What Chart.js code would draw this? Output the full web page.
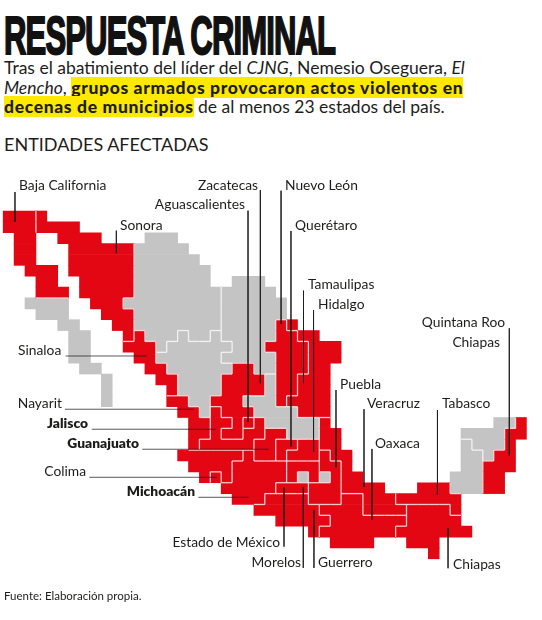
<!DOCTYPE html>
<html lang="es">
<head>
<meta charset="utf-8">
<title>Respuesta criminal</title>
<script src="https://cdn.jsdelivr.net/npm/chart.js@4"></script>
<style>
  html, body { margin: 0; padding: 0; background: #fff; }
  body { width: 542px; height: 620px; position: relative; overflow: hidden; color: #1d1d1b; font-family: Lato, sans-serif; }
  h1 { position: absolute; left: 4px; top: 6px; margin: 0; font: 700 54px/58px "Liberation Sans Narrow", sans-serif; color: #111;
       -webkit-text-stroke: 2px #111; transform: scaleX(0.575); transform-origin: left top; white-space: nowrap; letter-spacing: -1.5px; }
  #intro { position: absolute; left: 4px; top: 58px; margin: 0; font-size: 17.5px; line-height: 19.7px; white-space: nowrap; }
  #intro mark { background: #ffe900; color: #1d1d1b; font-weight: 900; letter-spacing: 0.65px; }
  h2 { position: absolute; left: 4px; top: 134px; margin: 0; font-size: 18px; line-height: 20px; font-weight: 400; white-space: nowrap; }
  #fuente { position: absolute; left: 4px; top: 589px; margin: 0; font-size: 11.5px; line-height: 14px; }
  #mapa { position: absolute; left: 0; top: 170px; width: 542px; height: 420px; }
</style>
</head>
<body>
<h1>RESPUESTA CRIMINAL</h1>
<p id="intro">Tras el abatimiento del líder del <i>CJNG</i>, Nemesio Oseguera, <i>El</i><br><i>Mencho</i>, <mark>grupos armados provocaron actos violentos en</mark><br><mark>decenas de municipios</mark> de al menos 23 estados del país.</p>
<h2>ENTIDADES AFECTADAS</h2>
<div id="mapa"><canvas id="mapaChart"></canvas></div>
<p id="fuente">Fuente: Elaboración propia.</p>
<script>
// Mosaico de entidades: cada tramo es [fila, columna inicial, columna final]
const bajaCalifornia = [[0,0,2],[1,0,2],[2,1,2],[3,1,2],[4,1,2],[5,2,4],[6,3,4],[7,3,5]];
const bajaCaliforniaSur = [[8,2,5],[9,3,5],[10,5,6],[11,6,7],[12,6,7],[13,6,7],[14,7,8],[15,9,9],[16,9,9],[17,9,9]];
const sonora = [[0,3,3],[1,3,6],[2,5,8],[3,6,11],[4,6,11],[5,6,11],[6,7,11],[7,7,11],[8,8,10],[9,9,11],[10,10,11],[11,11,11]];
const chihuahua = [[2,13,15],[3,12,16],[4,12,17],[5,12,18],[6,12,18],[7,12,19],[8,11,19],[9,12,19],[10,12,19],[11,13,15],[11,17,18],[12,14,14]];
const sinaloa = [[11,12,12],[12,11,13],[13,12,13],[14,13,14],[15,14,15],[16,15,15]];
const coahuila = [[6,21,23],[7,20,24],[8,20,25],[9,20,25],[10,20,24],[11,20,24],[12,21,23],[13,20,24],[14,23,24]];
const durango = [[11,16,16],[11,19,19],[12,15,20],[13,14,19],[14,15,20],[15,16,19],[16,16,19],[17,17,18],[18,18,18]];
const nuevoLeon = [[10,25,25],[11,25,26],[12,24,27],[13,25,27],[14,25,27],[15,25,26],[16,25,26],[17,25,25]];
const tamaulipas = [[10,26,26],[11,27,28],[12,28,30],[13,28,30],[14,28,29],[15,27,29],[16,27,29],[17,26,29],[18,27,29]];
const zacatecas = [[14,21,22],[15,20,23],[16,20,23],[17,19,21],[18,20,22],[19,21,21],[20,20,21]];
const aguascalientes = [[19,22,22]];
const sanLuisPotosi = [[15,24,24],[16,24,24],[17,22,24],[18,23,26],[19,24,28],[20,26,28]];
const nayarit = [[17,15,16],[18,16,17],[19,17,18],[20,17,18],[21,17,17]];
const jalisco = [[18,19,19],[19,19,20],[19,23,23],[20,19,19],[20,22,23],[21,18,22]];
const jaliscoSur = [[22,16,21],[23,17,20],[24,18,18],[24,20,20]];
const colima = [[24,19,19]];
const guanajuato = [[20,24,25],[21,23,24],[22,23,24]];
const queretaro = [[21,25,26],[22,25,25]];
const hidalgo = [[21,27,28],[22,26,28]];
const puebla = [[22,29,29],[23,29,30],[24,30,30],[25,28,30],[26,28,30]];
const veracruz = [[19,29,29],[20,29,30],[21,29,30],[22,30,31],[23,31,31],[24,31,32],[25,31,34],[26,33,35],[27,33,36]];
const michoacan = [[22,22,22],[23,21,25],[24,21,25],[25,20,24],[26,21,23]];
const estadoDeMexico = [[23,26,28],[24,26,26],[24,28,28]];
const morelos = [[25,25,27]];
const ciudadDeMexico = [[24,27,27]];
const tlaxcala = [[24,29,29]];
const guerrero = [[26,24,27],[27,23,28],[28,25,29],[29,28,28]];
const oaxaca = [[26,31,32],[27,29,32],[28,30,36],[29,29,35],[30,30,33]];
const tabasco = [[25,38,40],[26,36,41],[27,41,41]];
const chiapas = [[27,37,40],[28,37,41],[29,36,42],[30,37,39],[31,39,39]];
const campeche = [[21,42,42],[22,42,43],[23,42,43],[24,41,43],[25,41,43]];
const yucatan = [[19,45,46],[20,42,45],[21,43,45],[22,44,44]];
const quintanaRoo = [[19,47,47],[20,46,47],[21,46,46],[22,45,46],[23,44,46],[24,44,45],[25,44,45]];

const afectadas = [bajaCalifornia, sonora, sinaloa, nuevoLeon, tamaulipas, zacatecas, aguascalientes, nayarit, jalisco, jaliscoSur,
    colima, guanajuato, queretaro, hidalgo, puebla, veracruz, michoacan, estadoDeMexico, morelos, guerrero, oaxaca, tabasco, chiapas, quintanaRoo];
const noAfectadas = [bajaCaliforniaSur, chihuahua, coahuila, durango, sanLuisPotosi, ciudadDeMexico, tlaxcala, campeche, yucatan];

// Etiquetas: [texto, columna, fila, alineación, negrita]
const etiquetas = [
    ['Baja California', 1.45, -2.30, 'left', false], ['Sonora', 10.72, 1.38, 'left', false],
    ['Zacatecas', 23.38, -2.30, 'right', false], ['Aguascalientes', 22.18, -0.55, 'right', false],
    ['Nuevo León', 25.85, -2.30, 'left', false], ['Querétaro', 26.77, 1.38, 'left', false],
    ['Tamaulipas', 27.96, 6.81, 'left', false], ['Hidalgo', 28.88, 8.65, 'left', false],
    ['Quintana Roo', 46.04, 10.30, 'right', false], ['Chiapas', 45.58, 12.14, 'right', false],
    ['Sinaloa', 1.36, 12.88, 'left', false], ['Puebla', 30.90, 16.01, 'left', false],
    ['Veracruz', 33.38, 17.76, 'left', false], ['Tabasco', 40.26, 17.76, 'left', false],
    ['Nayarit', 5.39, 17.76, 'right', false], ['Jalisco', 7.78, 19.60, 'right', true],
    ['Guanajuato', 12.46, 21.44, 'right', true], ['Oaxaca', 34.11, 21.44, 'left', false],
    ['Colima', 7.60, 24.01, 'right', false], ['Michoacán', 17.60, 25.85, 'right', true],
    ['Estado de México', 25.39, 30.54, 'right', false], ['Morelos', 27.32, 32.38, 'right', false],
    ['Guerrero', 28.88, 32.38, 'left', false], ['Chiapas', 41.27, 32.57, 'left', false]
];

// Guías: [columna, fila, columna, fila]
const guias = [
    [1.08,-1.75,1.08,1.01], [10.38,1.81,10.38,3.89], [5.73,13.34,13.17,13.34], [23.59,-1.93,23.59,15.85],
    [22.46,-0.03,22.46,19.38], [25.49,-1.87,25.49,10.4], [26.40,1.84,26.40,21.68], [27.55,7.33,27.55,15.85],
    [28.47,9.11,28.47,22.14], [46.43,10.79,46.43,22.54], [30.53,16.47,30.53,23.58], [33.10,18.24,33.10,25.36],
    [33.83,21.89,33.83,28.43], [39.84,18.31,39.84,26.13], [40.81,29.19,40.81,32.87], [5.67,18.24,17.44,18.24],
    [8.12,20.08,19.50,20.08], [12.76,21.92,24.32,21.92], [7.90,24.50,19.59,24.50], [17.90,26.34,22.49,26.34],
    [25.76,25.42,25.76,30.88], [27.53,25.39,27.53,32.84], [28.51,27.51,28.51,32.84]
];

const ROJO = '#e30613';
const GRIS = '#c4c4c4';

const barrasDe = (estado, color) => ({
    type: 'bar',
    indexAxis: 'y',
    grouped: false,
    order: 3,
    backgroundColor: color,
    borderWidth: 0,
    barPercentage: 1,
    categoryPercentage: 1,
    data: estado.map(([fila, desde, hasta]) => ({ x: [desde, hasta + 1], y: fila + 0.5 }))
});

// Línea clara entre celdas vecinas de distinta entidad, un dataset por tramo
const limites = () => {
    const celdas = new Map();
    [...afectadas, ...noAfectadas].forEach((estado, i) => {
        estado.forEach(([fila, desde, hasta]) => {
            for (let c = desde; c <= hasta; c++) celdas.set(fila + ',' + c, i);
        });
    });
    const tramos = [];
    celdas.forEach((estado, clave) => {
        const [f, c] = clave.split(',').map(Number);
        const derecha = celdas.get(f + ',' + (c + 1));
        const abajo = celdas.get((f + 1) + ',' + c);
        if (derecha !== undefined && derecha !== estado) tramos.push([c + 1, f, c + 1, f + 1]);
        if (abajo !== undefined && abajo !== estado) tramos.push([c, f + 1, c + 1, f + 1]);
    });
    return tramos;
};

const lineaDe = ([x1, y1, x2, y2], order, color, grosor) => ({
    type: 'line',
    order,
    data: [{ x: x1, y: y1 }, { x: x2, y: y2 }],
    borderColor: color,
    borderWidth: grosor,
    pointRadius: 0,
    fill: false
});

const pluginEtiquetas = {
    id: 'etiquetas',
    afterDraw(chart) {
        const { ctx, scales } = chart;
        ctx.save();
        ctx.fillStyle = '#1d1d1b';
        ctx.textBaseline = 'middle';
        etiquetas.forEach(([texto, col, fila, alinear, negrita]) => {
            ctx.font = (negrita ? '800 ' : '400 ') + '13.8px Lato, sans-serif';
            ctx.textAlign = alinear;
            ctx.fillText(texto, scales.x.getPixelForValue(col), scales.y.getPixelForValue(fila));
        });
        ctx.restore();
    }
};

new Chart(document.getElementById('mapaChart'), {
    data: {
        datasets: [
            ...afectadas.map(e => barrasDe(e, ROJO)),
            ...noAfectadas.map(e => barrasDe(e, GRIS)),
            ...limites().map(t => lineaDe(t, 2, 'rgba(255,255,255,0.78)', 1.3)),
            ...guias.map(g => lineaDe(g, 1, 'rgba(25,25,25,0.72)', 1))
        ]
    },
    options: {
        responsive: true,
        maintainAspectRatio: false,
        animation: false,
        events: [],
        plugins: { legend: { display: false }, tooltip: { enabled: false } },
        scales: {
            x: { type: 'linear', display: false, offset: false, min: -0.294, max: 49.43 },
            y: { type: 'linear', display: false, offset: false, reverse: true, min: -3.772, max: 34.87 }
        }
    },
    plugins: [pluginEtiquetas]
});
</script>
</body>
</html>
